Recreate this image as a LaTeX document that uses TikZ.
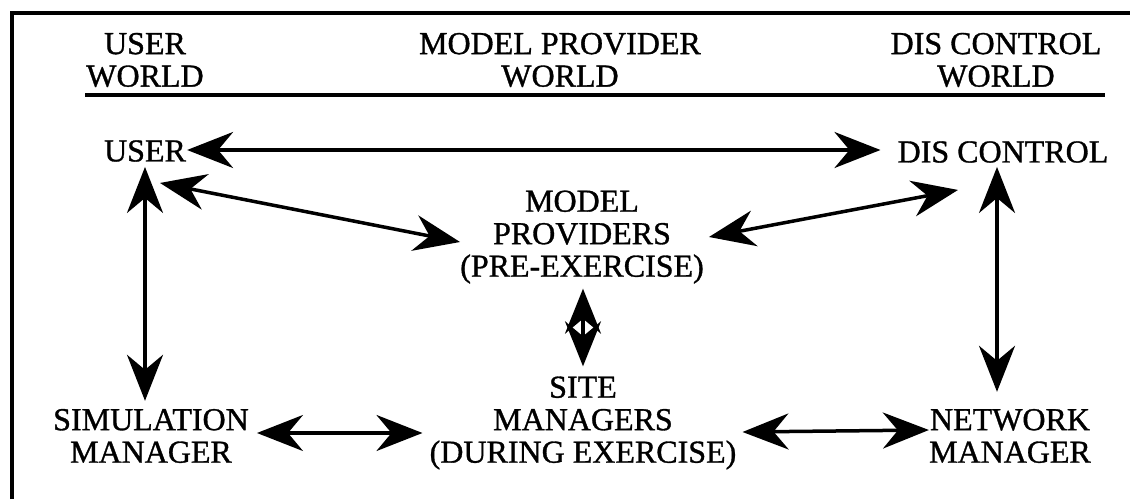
\documentclass[tikz,border=0pt]{standalone}
\usepackage{fontspec}
\setmainfont{Liberation Serif}
\newfontfamily\labelfont{Liberation Serif}[FakeBold=1.0]
\usetikzlibrary{arrows.meta}
\begin{document}
\begin{tikzpicture}[x=1pt,y=1pt,
  lbl/.style={inner sep=0pt, align=center, font=\labelfont\fontsize{32}{32.5}\selectfont},
  link/.style={line width=3.5pt, {Stealth[length=46pt,width=36pt,inset=15pt]}-{Stealth[length=46pt,width=36pt,inset=15pt]}},
  shortlink/.style={line width=3.5pt, {Stealth[length=45pt,width=36pt,inset=15pt]}-{Stealth[length=45pt,width=36pt,inset=15pt]}},
  rule/.style={line width=4pt}]
\useasboundingbox (0,0) rectangle (1130,499);
% frame (left and top edges)
\draw[rule] (12,0) -- (12,486) -- (1130,486);
% column headings
\node[lbl] (hUser) at (145,439) {USER\\WORLD};
\node[lbl] (hModel) at (560,439) {MODEL PROVIDER\\WORLD};
\node[lbl] (hDis) at (996,439) {DIS CONTROL\\WORLD};
\draw[rule] (85,404) -- (1105,404);
% participants
\node[lbl] (user) at (145,348) {USER};
\node[lbl] (dis) at (1003,347) {DIS CONTROL};
\node[lbl] (mp) at (582,262) {MODEL\\PROVIDERS\\(PRE-EXERCISE)};
\node[lbl] (site) at (583,76) {SITE\\MANAGERS\\(DURING EXERCISE)};
\node[lbl] (sim) at (151,63) {SIMULATION\\MANAGER};
\node[lbl] (net) at (1010,63) {NETWORK\\MANAGER};
% relations
\draw[link] ([xshift=1pt,yshift=1pt]user.east) -- ([xshift=-17pt,yshift=2pt]dis.west);
\draw[link] ([yshift=-5pt]user.south) -- ([yshift=8pt]user.south |- sim.north);
\draw[link] ([xshift=15pt,yshift=-21pt]user.south) -- ([xshift=0pt,yshift=-5pt]mp.west);
\draw[link] ([xshift=-45pt,yshift=-27pt]dis.south) -- ([xshift=5pt]mp.east);
\draw[link] ([xshift=-6pt,yshift=-4pt]dis.south) -- ([xshift=-6pt,yshift=17pt]dis.south |- net.north);
\draw[shortlink] ([xshift=1pt,yshift=-5pt]mp.south) -- ([xshift=1pt,yshift=10pt]mp.south |- site.north);
\draw[link] ([xshift=8pt,yshift=3pt]sim.east) -- ([xshift=-7pt,yshift=-10pt]site.west);
\draw[link] ([xshift=6pt,yshift=-9pt]site.east) -- ([yshift=6pt]net.west);
\end{tikzpicture}
\end{document}
